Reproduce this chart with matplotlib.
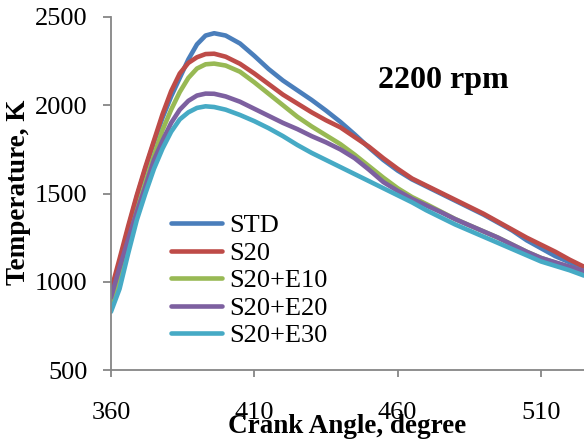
import numpy as np
import matplotlib
matplotlib.use('Agg')
import matplotlib.pyplot as plt

# -- Data ---------------------------------------------------------------------
crank_angle = [360, 363, 366, 369, 372, 375, 378, 381, 384, 387, 390, 393, 396,
               400, 405, 410, 415, 420, 425, 430, 435, 440, 445, 450, 455, 460,
               465, 470, 475, 480, 485, 490, 495, 500, 505, 510, 515, 520, 525]

temp_std = [920, 1110, 1300, 1480, 1640, 1790, 1930, 2050, 2155, 2260, 2345, 2395, 2408,
            2395, 2350, 2280, 2205, 2140, 2085, 2030, 1970, 1906, 1835, 1760, 1690, 1630,
            1580, 1540, 1500, 1460, 1420, 1380, 1335, 1290, 1235, 1190, 1145, 1110, 1075]
temp_s20 = [950, 1130, 1315, 1490, 1650, 1800, 1950, 2080, 2180, 2240, 2272, 2290, 2292,
            2275, 2235, 2180, 2120, 2060, 2010, 1960, 1915, 1875, 1820, 1765, 1700, 1640,
            1585, 1545, 1505, 1465, 1425, 1385, 1340, 1295, 1250, 1210, 1170, 1125, 1085]
temp_s20_e10 = [870, 1030, 1220, 1400, 1560, 1715, 1860, 1975, 2075, 2155, 2208, 2232, 2236,
                2225, 2190, 2130, 2065, 2000, 1935, 1880, 1830, 1780, 1720, 1655, 1590, 1530,
                1480, 1440, 1398, 1356, 1320, 1285, 1250, 1210, 1170, 1135, 1108, 1083, 1060]
temp_s20_e20 = [910, 1080, 1240, 1395, 1540, 1690, 1800, 1900, 1975, 2025, 2055, 2066, 2065,
                2050, 2020, 1980, 1940, 1900, 1865, 1825, 1790, 1750, 1700, 1635, 1565, 1515,
                1470, 1432, 1395, 1355, 1320, 1285, 1250, 1210, 1170, 1135, 1110, 1085, 1062]
temp_s20_e30 = [830, 960, 1160, 1349, 1500, 1640, 1755, 1850, 1920, 1960, 1985, 1994, 1990,
                1975, 1945, 1910, 1870, 1825, 1775, 1730, 1690, 1650, 1610, 1570, 1530, 1490,
                1450, 1405, 1365, 1325, 1290, 1255, 1220, 1185, 1150, 1115, 1090, 1065, 1035]

labels = ['STD', 'S20', 'S20+E10', 'S20+E20', 'S20+E30']
colors = ['#4A7EBB', '#BE4B48', '#98B954', '#7D60A0', '#46AAC5']
x_ticks = [360, 410, 460, 510]
y_ticks = [500, 1000, 1500, 2000, 2500]

# -- Figure -------------------------------------------------------------------
plt.rcParams['font.family'] = 'Liberation Serif'
fig = plt.figure(figsize=(5.84, 4.45), dpi=100)
ax = fig.add_axes([0.190, 0.1685, 0.810, 0.7933])

series = [temp_std, temp_s20, temp_s20_e10, temp_s20_e20, temp_s20_e30]
for temps, lab, col in zip(series, labels, colors):
    ax.plot(crank_angle, temps, color=col, lw=3.3, label=lab,
            solid_capstyle='round', solid_joinstyle='round')

ax.set_xlim(360, 525)
ax.set_ylim(500, 2500)
ax.set_xticks(x_ticks)
ax.set_yticks(y_ticks)

for side in ['top', 'right']:
    ax.spines[side].set_visible(False)
for side in ['left', 'bottom']:
    ax.spines[side].set_color('#868686')
    ax.spines[side].set_linewidth(1.3)
ax.tick_params(axis='y', direction='out', length=6, width=1.3, color='#868686',
               labelsize=19, pad=11)
ax.tick_params(axis='x', direction='out', length=5, width=1.3, color='#868686',
               labelsize=19, pad=18)

ax.set_xlabel('Crank Angle, degree', fontsize=19.5, fontweight='bold')
ax.xaxis.set_label_coords(0.5, -0.125)
ax.set_ylabel('Temperature, K', fontsize=19.5, fontweight='bold')
ax.yaxis.set_label_coords(-0.168, 0.504)

ax.text(476, 2141, '2200 rpm', fontsize=23, fontweight='bold', ha='center', va='center')

ax.legend(loc='upper left', bbox_to_anchor=(171 / 584, (445 - 214) / 445),
          bbox_transform=fig.transFigure, frameon=False, fontsize=19,
          handlelength=1.95, handletextpad=0.25, labelspacing=0.15, borderpad=0,
          borderaxespad=0)

fig.savefig('out.png', dpi=100)
